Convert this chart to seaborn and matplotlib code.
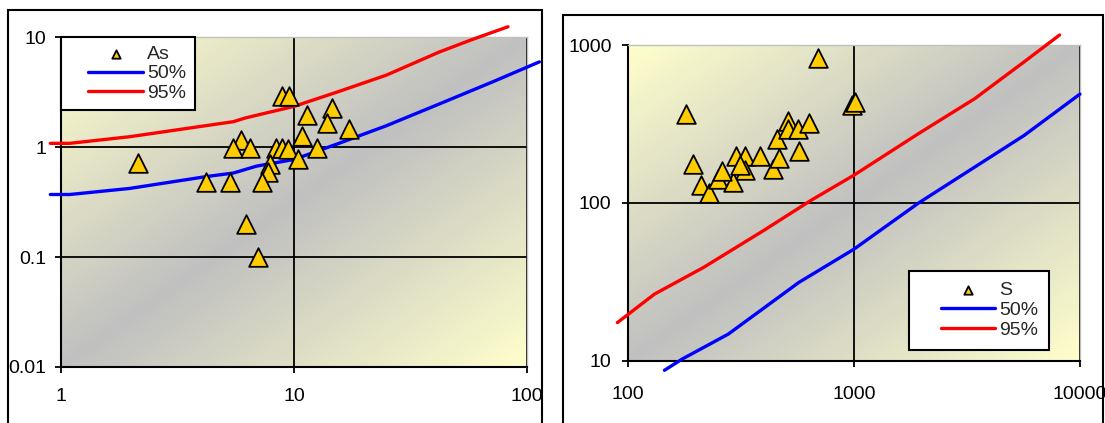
import numpy as np
import pandas as pd
import matplotlib
matplotlib.use("Agg")
import matplotlib.pyplot as plt
from matplotlib.patches import Rectangle
from matplotlib.lines import Line2D
from matplotlib.collections import PathCollection
from matplotlib.legend_handler import HandlerLine2D, HandlerPathCollection
from matplotlib.ticker import NullLocator
import seaborn as sns

# --- left chart: As ---
as_x = [8.9, 9.5, 11.4, 14.6, 13.8, 17.3, 10.8, 5.9, 5.5, 6.5, 8.4, 8.9, 9.4,
        12.5, 10.4, 7.9, 7.7, 7.3, 4.2, 5.3, 6.2, 7.0, 2.15]
as_y = [2.9, 2.9, 1.95, 2.25, 1.65, 1.45, 1.25, 1.15, 0.97, 0.97, 0.97, 0.97, 0.96,
        0.97, 0.78, 0.7, 0.59, 0.48, 0.48, 0.48, 0.2, 0.1, 0.72]
as_50_x = [0.9, 1.09, 1.97, 4.24, 5.5, 6.9, 10, 15.6, 24.9, 42, 70.8, 113]
as_50_y = [0.37, 0.37, 0.42, 0.54, 0.58, 0.67, 0.77, 1.08, 1.56, 2.46, 3.89, 5.94]
as_95_x = [0.9, 1.09, 1.97, 5.5, 6.2, 10, 15.6, 24.9, 42, 57.5, 82.9]
as_95_y = [1.08, 1.08, 1.24, 1.70, 1.84, 2.34, 3.2, 4.5, 7.3, 9.4, 12.4]

# --- right chart: S ---
s_x = [695, 181, 982, 1009, 194, 210, 228, 251, 300, 330, 330, 384, 440, 466,
       455, 512, 512, 567, 633, 573, 291, 260, 313]
s_y = [824, 366, 419, 434, 177, 130, 116, 141, 198, 198, 162, 198, 163, 192,
       254, 332, 294, 293, 319, 212, 136, 160, 174]
s_50_x = [145, 174, 278, 570, 1000, 1932, 3428, 5670, 10000]
s_50_y = [8.73, 10.3, 14.8, 31.4, 51, 100, 169, 268, 489]
s_95_x = [89.8, 131, 216, 398, 646, 1000, 1932, 3428, 5670, 8130]
s_95_y = [17.5, 26.5, 39.1, 66.9, 104, 150, 275, 458, 783, 1157]

sns.set_style("white")
plt.rcParams["font.family"] = ["Liberation Sans", "DejaVu Sans"]
FS = 14

fig = plt.figure(figsize=(11.05, 4.23), dpi=100)

# diagonal "from centre" fill: grey along the rising diagonal, pale yellow corners
yellow = np.array([1.0, 1.0, 0.80])
grey = np.array([0.753, 0.753, 0.753])
u = np.linspace(0, 1, 200)
uu, vv = np.meshgrid(u, u)
t = np.abs(uu + vv - 1)[..., None]
grad = grey + (yellow - grey) * t


def panel(pos, name, px, py, l50x, l50y, l95x, l95y, xt, xl, yt, yl, xpad, ypad,
          leg_loc, leg_anchor, hlen, hpad, bpad, lspace):
    bg = fig.add_axes(pos, zorder=0)
    bg.imshow(grad, extent=(0, 1, 0, 1), aspect="auto", interpolation="bilinear")
    bg.axis("off")
    ax = fig.add_axes(pos, zorder=1)
    ax.patch.set_visible(False)
    ax.set_xscale("log")
    ax.set_yscale("log")

    d50 = pd.DataFrame({"x": l50x, "y": l50y})
    d95 = pd.DataFrame({"x": l95x, "y": l95y})
    pts = pd.DataFrame({"x": px, "y": py})
    sns.lineplot(data=d50, x="x", y="y", ax=ax, color="#0000FF", lw=2.4,
                 estimator=None, sort=False, label="50%", zorder=3, clip_on=False)
    sns.lineplot(data=d95, x="x", y="y", ax=ax, color="#FF0000", lw=2.4,
                 estimator=None, sort=False, label="95%", zorder=3, clip_on=False)
    sns.scatterplot(data=pts, x="x", y="y", ax=ax, marker="^", s=180,
                    color="#FFCC00", edgecolor="black", linewidth=1.3,
                    label=name, zorder=4, clip_on=False)

    ax.set_xlim(xt[0], xt[-1])
    ax.set_ylim(yt[0], yt[-1])
    ax.set_xticks(xt, xl)
    ax.set_yticks(yt, yl)
    ax.xaxis.set_minor_locator(NullLocator())
    ax.yaxis.set_minor_locator(NullLocator())
    ax.grid(True, which="major", color="black", lw=1.3, zorder=1)
    ax.set_axisbelow(True)
    ax.set_xlabel("")
    ax.set_ylabel("")
    for s in ("left", "bottom"):
        ax.spines[s].set_color("black")
        ax.spines[s].set_linewidth(1.5)
    for s in ("top", "right"):
        ax.spines[s].set_color("#C0C0C0")
        ax.spines[s].set_linewidth(1.0)
    ax.tick_params(axis="x", direction="out", length=4.3, width=1.3, pad=xpad,
                   labelsize=FS, colors="black", bottom=True)
    ax.tick_params(axis="y", direction="out", length=4.3, width=1.3, pad=ypad,
                   labelsize=FS, colors="black", left=True)

    h, lab = ax.get_legend_handles_labels()
    order = [lab.index(name), lab.index("50%"), lab.index("95%")]
    leg = ax.legend([h[i] for i in order], [lab[i] for i in order],
                    loc=leg_loc, bbox_to_anchor=leg_anchor, borderaxespad=0,
                    fontsize=FS, markerscale=0.45, handlelength=hlen,
                    handletextpad=0.2, borderpad=bpad, labelspacing=lspace,
                    fancybox=False, framealpha=1, edgecolor="black",
                    handler_map={Line2D: HandlerLine2D(xpad=hpad),
                                 PathCollection: HandlerPathCollection(xpad=hpad)})
    leg.get_frame().set_linewidth(1.5)
    leg.set_zorder(5)
    return ax


panel([0.0552, 0.1324, 0.4217, 0.7801], "As", as_x, as_y,
      as_50_x, as_50_y, as_95_x, as_95_y,
      [1, 10, 100], ["1", "10", "100"],
      [0.01, 0.1, 1, 10], ["0.01", "0.1", "1", "10"],
      11, 6, "upper left", (0, 1), 3.79, 0.95, 0.44, 0.08)

panel([0.5683, 0.1466, 0.4090, 0.7470], "S", s_x, s_y,
      s_50_x, s_50_y, s_95_x, s_95_y,
      [100, 1000, 10000], ["100", "1000", "10000"],
      [10, 100, 1000], ["10", "100", "1000"],
      14, 7.5, "lower right", (0.931, 0.035), 3.89, 1.11, 0.55, 0.13)

# outer chart frames
fig.add_artist(Rectangle((8 / 1105, -0.05), 534 / 1105, 1.05 - 10 / 423,
                         transform=fig.transFigure, fill=False, lw=1.5,
                         edgecolor="black", zorder=10))
fig.add_artist(Rectangle((563 / 1105, -0.05), 540 / 1105, 1.05 - 15 / 423,
                         transform=fig.transFigure, fill=False, lw=1.5,
                         edgecolor="black", zorder=10))

fig.savefig("out.png", dpi=100, facecolor="white")
